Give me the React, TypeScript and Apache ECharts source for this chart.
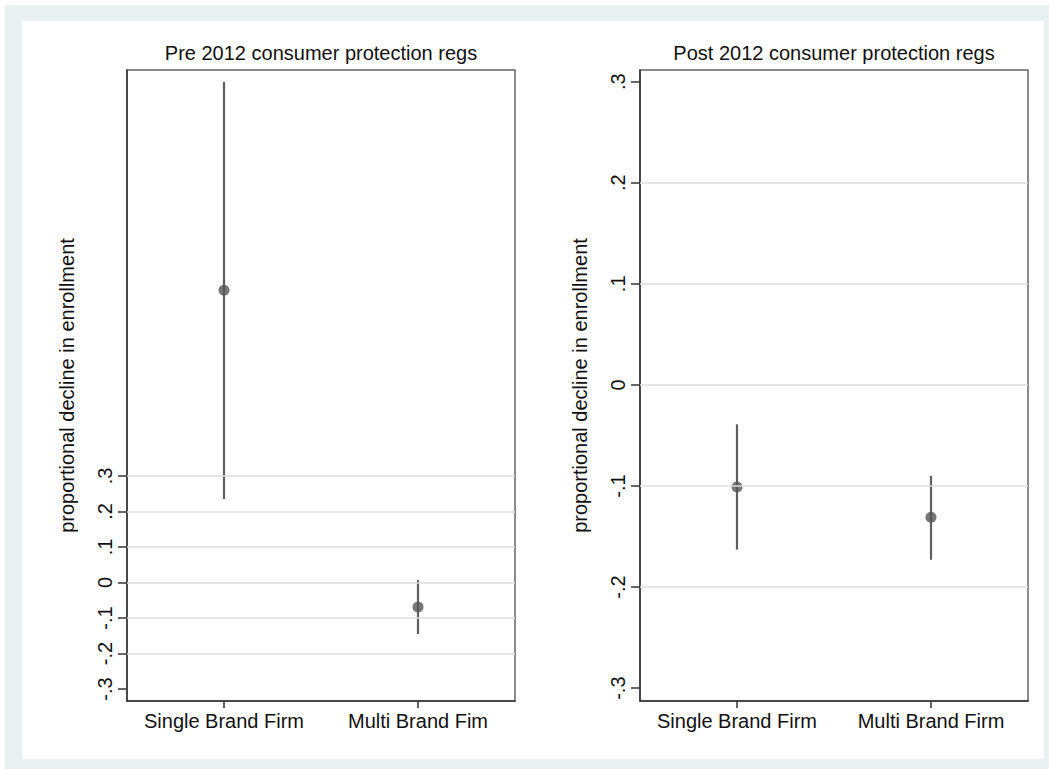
import React, { useEffect, useRef } from "react";
import * as echarts from "echarts";

const categoriesPre = ["Single Brand Firm", "Multi Brand Fim"];
const categoriesPost = ["Single Brand Firm", "Multi Brand Firm"];

const prePoint = [0.823, -0.069];
const preLow = [0.235, -0.145];
const preHigh = [1.41, 0.007];

const postPoint = [-0.101, -0.131];
const postLow = [-0.163, -0.173];
const postHigh = [-0.039, -0.09];

const yTicks = [-0.3, -0.2, -0.1, 0, 0.1, 0.2, 0.3];
const preGridValues = [-0.2, -0.1, 0, 0.1, 0.2, 0.3];
const postGridValues = [-0.2, -0.1, 0, 0.1, 0.2];

const titles = ["Pre 2012 consumer protection regs", "Post 2012 consumer protection regs"];
const yTitle = "proportional decline in enrollment";

const FONT = "Liberation Sans, Arial, sans-serif";
const FS = 20;

function fmt(v: number): string {
  if (Math.abs(v) < 1e-9) return "0";
  const d = Math.round(Math.abs(v) * 10);
  return (v < 0 ? "-" : "") + "." + d;
}

export default function App() {
  const ref = useRef<HTMLDivElement>(null);
  useEffect(() => {
    if (!ref.current) return;
    const chart = echarts.init(ref.current, null, { renderer: "svg" });

    const yAxisBase = (gridIndex: number, min: number, max: number) => ({
      type: "value",
      gridIndex,
      min,
      max,
      name: yTitle,
      nameLocation: "middle",
      nameGap: 50,
      nameTextStyle: { fontFamily: FONT, fontSize: FS, color: "#111" },
      axisLine: { show: true, onZero: false, lineStyle: { color: "#333", width: 1.5 } },
      axisTick: { show: true, length: 9, customValues: yTicks, lineStyle: { color: "#333", width: 1.5 } },
      axisLabel: {
        show: true,
        customValues: yTicks,
        rotate: 90,
        margin: 12,
        formatter: (v: number) => fmt(v),
        fontFamily: FONT,
        fontSize: FS,
        color: "#111",
      },
      splitLine: { show: false },
    });

    const xAxisBase = (gridIndex: number, cats: string[]) => ({
      type: "category",
      gridIndex,
      data: cats,
      boundaryGap: true,
      axisLine: { show: true, onZero: false, lineStyle: { color: "#333", width: 1.5 } },
      axisTick: { show: true, alignWithLabel: true, interval: 0, length: 7, lineStyle: { color: "#333", width: 1.5 } },
      axisLabel: { fontFamily: FONT, fontSize: FS, color: "#111", margin: 10, interval: 0 },
      splitLine: { show: false },
    });

    const errRender = (params: any, api: any) => {
      const x = api.value(0);
      const lo = api.coord([x, api.value(1)]);
      const hi = api.coord([x, api.value(2)]);
      return {
        type: "line",
        shape: { x1: lo[0], y1: lo[1], x2: hi[0], y2: hi[1] },
        style: { stroke: "#5f5f5f", lineWidth: 2.2 },
      };
    };

    const gridSeries = (idx: number, vals: number[]) => ({
      type: "scatter",
      xAxisIndex: idx,
      yAxisIndex: idx,
      data: [],
      z: 1,
      silent: true,
      markLine: {
        silent: true,
        symbol: ["none", "none"],
        label: { show: false },
        lineStyle: { color: "#dcdcdc", width: 1.5, type: "solid" },
        data: vals.map((v) => ({ yAxis: v })),
      },
    });

    chart.setOption({
      animation: false,
      graphic: [
        { type: "rect", shape: { x: 5, y: 5, width: 1044, height: 764 }, style: { fill: "#e9f0f2" }, z: -10 },
        { type: "rect", shape: { x: 22, y: 21, width: 1022, height: 738 }, style: { fill: "#ffffff" }, z: -9 },
        {
          type: "text",
          x: 321,
          y: 53,
          style: { text: titles[0], textAlign: "center", textVerticalAlign: "middle", font: `${FS}px ${FONT}`, fill: "#111" },
        },
        {
          type: "text",
          x: 834,
          y: 53,
          style: { text: titles[1], textAlign: "center", textVerticalAlign: "middle", font: `${FS}px ${FONT}`, fill: "#111" },
        },
      ],
      grid: [
        { left: 127, right: 534, top: 70, bottom: 68, show: true, borderColor: "#666", borderWidth: 1.5, backgroundColor: "transparent" },
        { left: 640, right: 21, top: 70, bottom: 68, show: true, borderColor: "#666", borderWidth: 1.5, backgroundColor: "transparent" },
      ],
      xAxis: [xAxisBase(0, categoriesPre), xAxisBase(1, categoriesPost)],
      yAxis: [yAxisBase(0, -0.3335, 1.443), yAxisBase(1, -0.3127, 0.3115)],
      series: [
        gridSeries(0, preGridValues),
        gridSeries(1, postGridValues),
        {
          type: "custom",
          xAxisIndex: 0,
          yAxisIndex: 0,
          renderItem: errRender,
          encode: { x: 0, y: [1, 2] },
          data: categoriesPre.map((_, i) => [i, preLow[i], preHigh[i]]),
          z: 2,
        },
        {
          type: "custom",
          xAxisIndex: 1,
          yAxisIndex: 1,
          renderItem: errRender,
          encode: { x: 0, y: [1, 2] },
          data: categoriesPost.map((_, i) => [i, postLow[i], postHigh[i]]),
          z: 2,
        },
        {
          type: "scatter",
          xAxisIndex: 0,
          yAxisIndex: 0,
          symbol: "circle",
          symbolSize: 11,
          itemStyle: { color: "#555555" },
          data: categoriesPre.map((_, i) => [i, prePoint[i]]),
          z: 3,
        },
        {
          type: "scatter",
          xAxisIndex: 1,
          yAxisIndex: 1,
          symbol: "circle",
          symbolSize: 11,
          itemStyle: { color: "#555555" },
          data: categoriesPost.map((_, i) => [i, postPoint[i]]),
          z: 3,
        },
      ],
    });
    return () => chart.dispose();
  }, []);

  return (
    <div
      ref={ref}
      style={{ position: "fixed", left: 0, top: 0, width: 1049, height: 769, background: "#ffffff" }}
    />
  );
}
